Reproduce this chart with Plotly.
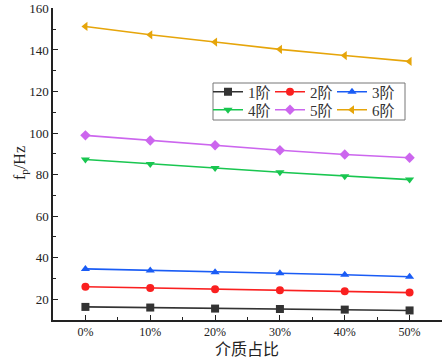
import plotly.graph_objects as go

categories = ["0%", "10%", "20%", "30%", "40%", "50%"]
x_pos = [0, 1, 2, 3, 4, 5]
series_names = ["1阶", "2阶", "3阶", "4阶", "5阶", "6阶"]
s1 = [16.3, 16.0, 15.5, 15.3, 15.0, 14.6]
s2 = [26.0, 25.4, 24.8, 24.3, 23.8, 23.2]
s3 = [34.6, 33.8, 33.0, 32.5, 31.8, 30.8]
s4 = [87.3, 85.1, 83.2, 81.1, 79.2, 77.6]
s5 = [98.9, 96.4, 94.1, 91.7, 89.7, 88.1]
s6 = [151.3, 147.3, 143.8, 140.3, 137.3, 134.5]
series_values = [s1, s2, s3, s4, s5, s6]
y_ticks = [20, 40, 60, 80, 100, 120, 140, 160]

colors = ["#333333", "#fa2020", "#1a5cf5", "#19c650", "#cc66ee", "#e6a50a"]
symbols = ["square", "circle", "triangle-up", "triangle-down", "diamond", "triangle-left"]

FONT = "Liberation Serif, Times New Roman, Noto Sans CJK SC, serif"

# plot area in px
L, R, T, B = 53, 442, 8, 320
PW, PH = R - L, B - T

def px_x(p):
    return (p - L) / PW

def px_y(p):
    return (B - p) / PH

fig = go.Figure()
legend_layout = {}
col_px = [208, 270, 332]
row_px = [92, 110]
for i, (name, vals, c, sym) in enumerate(zip(series_names, series_values, colors, symbols)):
    lid = "legend" if i == 0 else f"legend{i + 1}"
    fig.add_trace(go.Scatter(
        x=x_pos, y=vals, name=name, mode="lines+markers",
        line=dict(color=c, width=1.6),
        marker=dict(symbol=sym, size=8, color=c),
        legend=lid,
    ))
    legend_layout[lid] = dict(
        x=px_x(col_px[i % 3]), y=px_y(row_px[i // 3]),
        xanchor="left", yanchor="middle",
        bgcolor="rgba(0,0,0,0)", borderwidth=0,
        font=dict(family=FONT, size=15, color="#333333"),
        itemwidth=30,
    )

fig.update_layout(
    width=444, height=361,
    margin=dict(l=L, r=444 - R, t=T, b=361 - B),
    paper_bgcolor="white", plot_bgcolor="white",
    font=dict(family=FONT, size=12, color="#222222"),
    showlegend=True,
    **legend_layout,
    xaxis=dict(
        range=[-0.5, 5.5], tickvals=x_pos, ticktext=categories,
        showline=True, linecolor="#222222", linewidth=1.5,
        ticks="inside", ticklen=5, tickwidth=1.2, tickcolor="#222222",
        showgrid=False, zeroline=False, automargin=False,
        tickfont=dict(family=FONT, size=12, color="#222222"),
        minor=dict(ticks="inside", ticklen=3, tick0=0.5, dtick=1, tickcolor="#222222", tickwidth=1.2, showgrid=False),
    ),
    yaxis=dict(
        range=[10, 160.2], tickvals=y_ticks,
        showline=True, linecolor="#222222", linewidth=1.5,
        ticks="inside", ticklen=5, tickwidth=1.2, tickcolor="#222222",
        showgrid=False, zeroline=False, automargin=False,
        tickfont=dict(family=FONT, size=13, color="#222222"),
        minor=dict(ticks="inside", ticklen=3, tick0=10, dtick=20, tickcolor="#222222", tickwidth=1.2, showgrid=False),
    ),
)

fig.add_annotation(text="介质占比", xref="paper", yref="paper",
                   x=px_x(247), y=px_y(349), showarrow=False,
                   xanchor="center", yanchor="middle",
                   font=dict(family=FONT, size=16, color="#222222"))
fig.add_annotation(text="f<sub>p</sub>/Hz", xref="paper", yref="paper",
                   x=px_x(20), y=px_y(163), showarrow=False, textangle=-90,
                   xanchor="center", yanchor="middle",
                   font=dict(family=FONT, size=16, color="#222222"))

fig.add_shape(type="rect", xref="paper", yref="paper",
              x0=px_x(213), x1=px_x(405), y0=px_y(120), y1=px_y(83),
              line=dict(color="#777777", width=1), fillcolor="rgba(0,0,0,0)")

fig.write_html("out.html", config={"displayModeBar": False},
               post_script="document.body.style.margin='0px';document.body.style.overflow='hidden';")
